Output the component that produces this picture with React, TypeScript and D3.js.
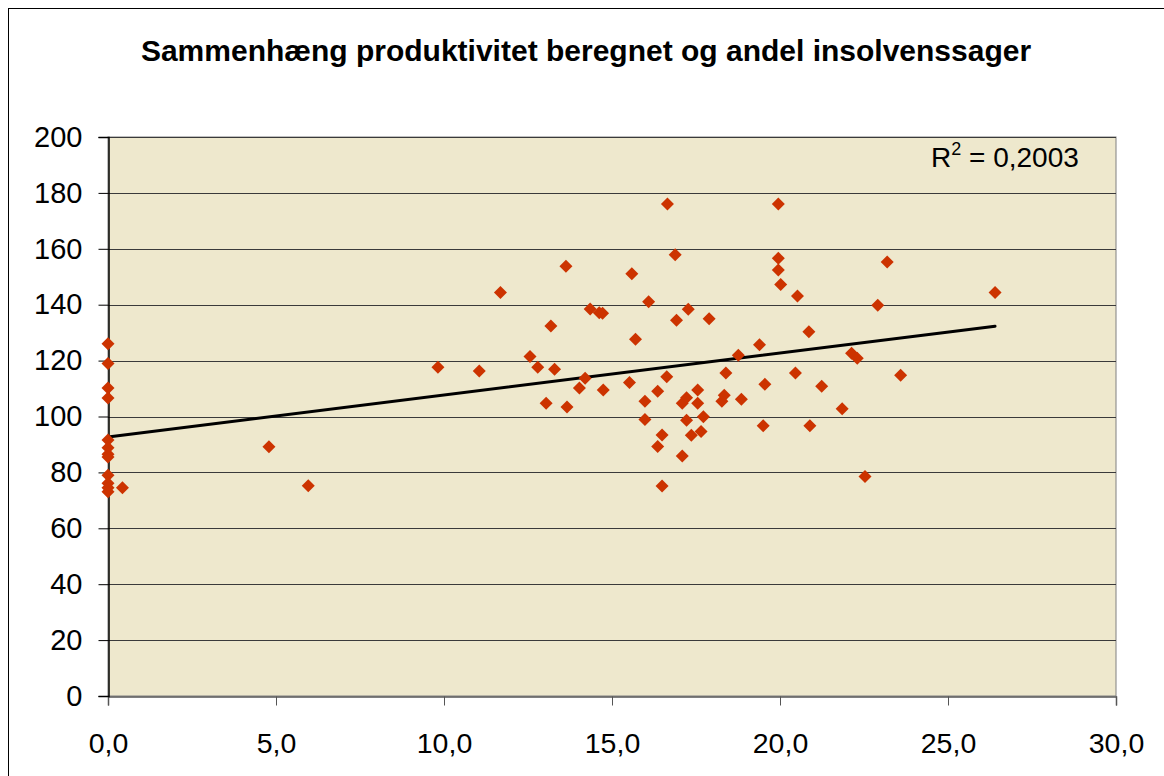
import {useEffect, useRef} from 'react';
import * as d3 from 'd3';

// andel insolvenssager (x) og produktivitet beregnet (y)
const zeroGroupY = [126, 119, 110.2, 106.6, 91.6, 88.8, 86.5, 85.5, 79, 76.1, 74.5, 73.1];

const xValues = [
  0.43, 4.79, 5.96, 9.82, 11.05, 11.68, 12.56, 12.79, 13.04, 13.18, 13.29, 13.63, 13.66, 14.03, 14.2,
  14.35, 14.62, 14.72, 14.74, 15.52, 15.59, 15.7, 15.98, 15.98, 16.09, 16.36, 16.36, 16.49, 16.49,
  16.63, 16.65, 16.88, 16.92, 17.09, 17.09, 17.22, 17.22, 17.27, 17.36, 17.55, 17.55, 17.65, 17.72,
  17.89, 18.27, 18.34, 18.39, 18.76, 18.85, 19.39, 19.5, 19.55, 19.95, 19.95, 19.95, 20.02, 20.46,
  20.52, 20.86, 20.89, 21.24, 21.85, 22.13, 22.3, 22.53, 22.91, 23.19, 23.59, 26.4,
];
const yValues = [
  74.5, 89.2, 75.2, 117.6, 116.3, 144.4, 121.5, 117.6, 104.7, 132.4, 116.9, 153.8, 103.4, 110.2, 113.7,
  138.5, 137.1, 136.9, 109.5, 112.2, 151.1, 127.6, 105.5, 98.9, 141.1, 109.0, 89.3, 93.4, 75.1,
  114.2, 176.0, 157.9, 134.4, 104.7, 85.9, 106.7, 98.7, 138.4, 93.3, 109.5, 104.7, 94.6, 99.9,
  135.0, 105.5, 107.6, 115.6, 121.9, 106.2, 125.7, 96.7, 111.5, 176.0, 156.6, 152.4, 147.2, 115.6,
  143.1, 130.3, 96.7, 110.8, 102.8, 122.6, 120.8, 78.5, 139.8, 155.3, 114.8, 144.4,
];

// lineær tendenslinje, endepunkter aflæst
const trendX = [0, 26.4];
const trendY = [92.7, 132.3];
const rSquared = '0,2003';

const xTicks = [0, 5, 10, 15, 20, 25, 30];
const yTicks = [0, 20, 40, 60, 80, 100, 120, 140, 160, 180, 200];

const title = 'Sammenhæng produktivitet beregnet og andel insolvenssager';

export default function App() {
  const svgRef = useRef<SVGSVGElement>(null);

  useEffect(() => {
    if (!svgRef.current) return;
    const width = 1164;
    const height = 776;
    const svg = d3.select(svgRef.current);
    svg.selectAll('*').remove();

    const margin = {top: 137, right: 48, bottom: 80, left: 108};
    const font = '"Liberation Sans", Arial, sans-serif';

    svg.append('rect').attr('width', width).attr('height', height).attr('fill', '#ffffff');
    svg
      .append('rect')
      .attr('x', 8.5)
      .attr('y', 8.5)
      .attr('width', width + 20)
      .attr('height', height + 20)
      .attr('fill', 'none')
      .attr('stroke', '#000')
      .attr('stroke-width', 1);

    const x = d3.scaleLinear().domain([0, 30]).range([margin.left, width - margin.right]);
    const y = d3.scaleLinear().domain([0, 200]).range([height - margin.bottom, margin.top]);

    const [x0, x1] = x.range();
    const [y0, y1] = y.range();

    svg
      .append('rect')
      .attr('x', x0)
      .attr('y', y1)
      .attr('width', x1 - x0)
      .attr('height', y0 - y1)
      .attr('fill', '#eee8cd')
      .attr('stroke', '#808080')
      .attr('stroke-width', 1);

    // gitterlinjer
    svg
      .append('g')
      .selectAll('line')
      .data(yTicks.filter((d) => d > 0))
      .join('line')
      .attr('x1', x0)
      .attr('x2', x1)
      .attr('y1', (d) => Math.round(y(d)) + 0.5)
      .attr('y2', (d) => Math.round(y(d)) + 0.5)
      .attr('stroke', '#3a3a3a')
      .attr('stroke-width', 1.2);

    const fmt = (d: number) => d3.format('.1f')(d).replace('.', ',');

    const xAxis = svg
      .append('g')
      .attr('transform', `translate(0,${Math.round(y0) + 0.5})`)
      .call(d3.axisBottom(x).tickValues(xTicks).tickFormat(fmt as any).tickSize(9).tickPadding(27));
    xAxis.select('.domain').attr('stroke', '#555').attr('stroke-width', 1.5);
    xAxis.selectAll('line').attr('stroke', '#555');
    xAxis.selectAll('text').attr('font-family', font).attr('font-size', 28.5).attr('fill', '#000');

    const yAxis = svg
      .append('g')
      .attr('transform', `translate(${Math.round(x0) + 0.5},0)`)
      .call(d3.axisLeft(y).tickValues(yTicks).tickFormat(d3.format('d') as any).tickSize(10).tickPadding(16));
    yAxis.select('.domain').attr('stroke', '#000').attr('stroke-width', 1.5);
    yAxis.selectAll('line').attr('stroke', '#000');
    yAxis.selectAll('text').attr('font-family', font).attr('font-size', 29).attr('fill', '#000');

    // tendenslinje
    svg
      .append('line')
      .attr('x1', x(trendX[0]))
      .attr('x2', x(trendX[1]))
      .attr('y1', y(trendY[0]))
      .attr('y2', y(trendY[1]))
      .attr('stroke', '#000')
      .attr('stroke-width', 3)
      .attr('stroke-linecap', 'round');

    const points: [number, number][] = [
      ...zeroGroupY.map((v) => [0, v] as [number, number]),
      ...xValues.map((v, i) => [v, yValues[i]] as [number, number]),
    ];

    const diamond = 'M0,-6.5L6.5,0L0,6.5L-6.5,0Z';
    svg
      .append('g')
      .selectAll('path')
      .data(points)
      .join('path')
      .attr('d', diamond)
      .attr('transform', (d) => `translate(${x(d[0])},${y(d[1])})`)
      .attr('fill', '#cc3300');

    svg
      .append('text')
      .attr('x', 586)
      .attr('y', 61)
      .attr('text-anchor', 'middle')
      .attr('font-family', font)
      .attr('font-size', 30)
      .attr('font-weight', 'bold')
      .attr('fill', '#000')
      .text(title);

    const r2 = svg
      .append('text')
      .attr('x', 931)
      .attr('y', 167)
      .attr('font-family', font)
      .attr('font-size', 28)
      .attr('fill', '#000');
    r2.append('tspan').text('R');
    r2.append('tspan').attr('dy', -12).attr('font-size', 18).text('2');
    r2.append('tspan').attr('dy', 12).text(` = ${rSquared}`);
  }, []);

  return (
    <div style={{position: 'absolute', left: 0, top: 0}}>
      <svg ref={svgRef} width={1164} height={776} style={{display: 'block'}} />
    </div>
  );
}
